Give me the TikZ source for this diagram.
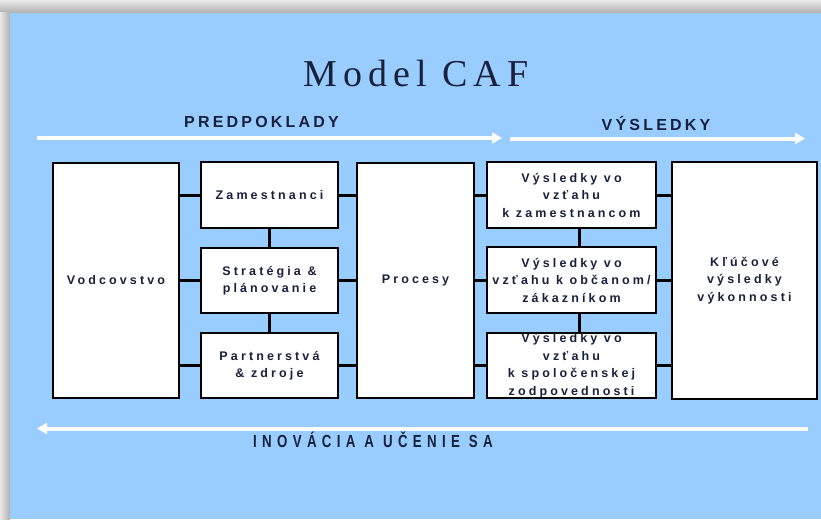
\documentclass[tikz,border=0pt]{standalone}
\usepackage{fontspec}
\usepackage{graphicx}
\setmainfont{Liberation Serif}
\newfontfamily\boxfont[LetterSpace=25]{Liberation Sans}
\newfontfamily\headfont[LetterSpace=20]{Liberation Sans}
\newfontfamily\botfont[LetterSpace=40]{Liberation Sans}
\newfontfamily\titlefont[LetterSpace=16]{Liberation Serif}
\usetikzlibrary{arrows.meta}
\definecolor{bg}{RGB}{153,204,255}
\definecolor{ink}{RGB}{24,32,60}
\definecolor{frameA}{RGB}{232,232,232}
\definecolor{frameB}{RGB}{176,176,176}
\begin{document}
\begin{tikzpicture}[x=1pt,y=-1pt,
  box/.style={draw=black,line width=2.5pt,fill=white,rectangle,inner sep=0pt,align=center,
    font={\boxfont\bfseries\fontsize{12.5}{17.5}\selectfont},text=ink},
  link/.style={draw=black,line width=3pt},
  flow/.style={draw=white,line width=4pt,-{Triangle[length=10pt,width=11pt]}},
  head/.style={anchor=base,text=ink,font={\headfont\bfseries\fontsize{16}{18}\selectfont}}]
\useasboundingbox (0,0) rectangle (821,519);
% frame and background
\shade[top color=frameA,bottom color=frameB] (0,0) rectangle (821,13);
\shade[left color=frameA,right color=frameB] (0,13) rectangle (10,519);
\fill[bg] (10,13) rectangle (821,519);
% title and headings
\node[anchor=base,text=ink,font={\titlefont\fontsize{38}{40}\selectfont}] (title) at (416,86.7) {Model CAF};
\node[head] (pre) at (261.5,127) {PREDPOKLADY};
\node[head] (vys) at (656,130.5) {VÝSLEDKY};
% flow arrows
\coordinate (a1s) at (37,138);
\coordinate (a1e) at (502,138);
\coordinate (a2s) at (510,138.5);
\coordinate (a2e) at (805,138.5);
\coordinate (a3s) at (808,428.5);
\coordinate (a3e) at (37,428.5);
\draw[flow] (a1s) -- (a1e);
\draw[flow] (a2s) -- (a2e);
\draw[flow] (a3s) -- (a3e);
\node[anchor=base,text=ink] (ino) at (373,447.7)
  {\scalebox{0.76}[1]{\botfont\bfseries\fontsize{17.5}{19}\selectfont INOVÁCIA A UČENIE SA}};
% boxes
\node[box,minimum width=126,minimum height=235] (vod) at (116,280.5) {Vodcovstvo};
\node[box,minimum width=137,minimum height=66] (zam) at (269.5,195) {Zamestnanci};
\node[box,minimum width=137,minimum height=65] (str) at (269.5,280.5) {Stratégia \&\\plánovanie};
\node[box,minimum width=137,minimum height=65] (par) at (269.5,365.5) {Partnerstvá\\\& zdroje};
\node[box,minimum width=117,minimum height=235] (pro) at (415.5,280.5) {Procesy};
\node[box,minimum width=169,minimum height=66] (r1) at (571.5,195) {Výsledky vo\\vzťahu\\k zamestnancom};
\node[box,minimum width=169,minimum height=66] (r2) at (571.5,280) {Výsledky vo\\vzťahu k občanom/\\zákazníkom};
\node[box,minimum width=169,minimum height=65] (r3) at (571.5,365.5) {Výsledky vo\\vzťahu\\k spoločenskej\\zodpovednosti};
\node[box,minimum width=145,minimum height=237] (klu) at (744.5,280.5) {Kľúčové\\výsledky\\výkonnosti};
% connectors
\draw[link] (vod.east |- zam.west) -- (zam.west);
\draw[link] (vod.east |- str.west) -- (str.west);
\draw[link] (vod.east |- par.west) -- (par.west);
\draw[link] (zam.south) -- (str.north);
\draw[link] (str.south) -- (par.north);
\draw[link] (zam.east) -- (pro.west |- zam.east);
\draw[link] (str.east) -- (pro.west |- str.east);
\draw[link] (par.east) -- (pro.west |- par.east);
\draw[link] (pro.east |- r1.west) -- (r1.west);
\draw[link] (pro.east |- r2.west) -- (r2.west);
\draw[link] (pro.east |- r3.west) -- (r3.west);
\draw[link] ([xshift=8pt]r1.south) -- ([xshift=8pt]r2.north);
\draw[link] ([xshift=8pt]r2.south) -- ([xshift=8pt]r3.north);
\draw[link] (r1.east) -- (klu.west |- r1.east);
\draw[link] (r2.east) -- (klu.west |- r2.east);
\draw[link] (r3.east) -- (klu.west |- r3.east);
\end{tikzpicture}
\end{document}
